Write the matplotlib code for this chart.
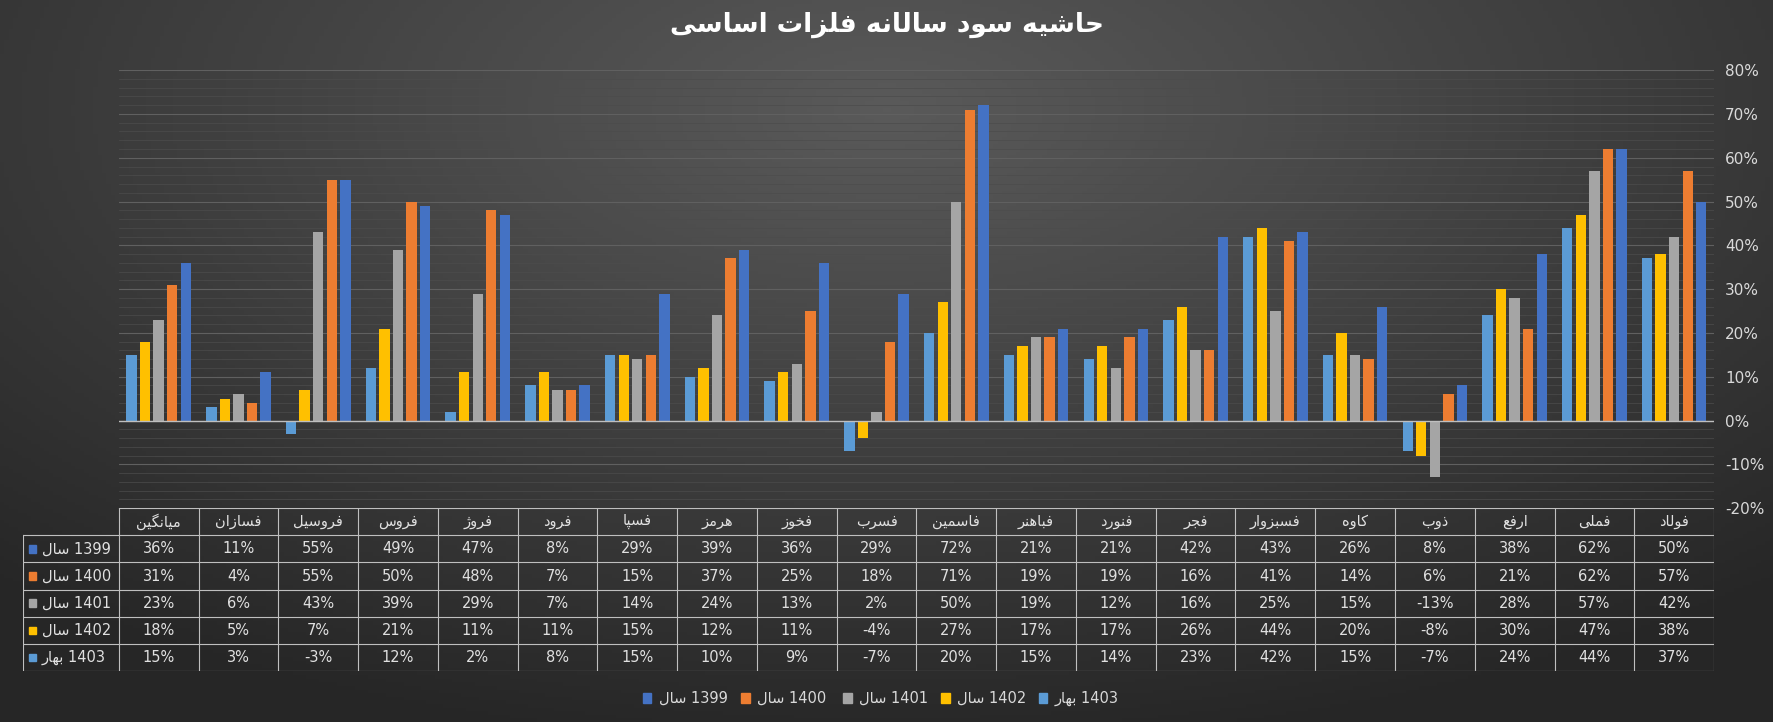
import numpy as np
import matplotlib
matplotlib.use("Agg")
import matplotlib.pyplot as plt
from matplotlib.patches import Rectangle

# ---- minimal Persian shaping (matplotlib has no bidi / joining) ----
FORMS = {  # isolated, final, initial, medial
    "ا": (0xFE8D, 0xFE8E, None, None), "د": (0xFEA9, 0xFEAA, None, None),
    "ذ": (0xFEAB, 0xFEAC, None, None), "ر": (0xFEAD, 0xFEAE, None, None),
    "ز": (0xFEAF, 0xFEB0, None, None), "ژ": (0xFB8A, 0xFB8B, None, None),
    "و": (0xFEED, 0xFEEE, None, None),
    "ب": (0xFE8F, 0xFE90, 0xFE91, 0xFE92), "ت": (0xFE95, 0xFE96, 0xFE97, 0xFE98),
    "ج": (0xFE9D, 0xFE9E, 0xFE9F, 0xFEA0), "ح": (0xFEA1, 0xFEA2, 0xFEA3, 0xFEA4),
    "خ": (0xFEA5, 0xFEA6, 0xFEA7, 0xFEA8), "س": (0xFEB1, 0xFEB2, 0xFEB3, 0xFEB4),
    "ش": (0xFEB5, 0xFEB6, 0xFEB7, 0xFEB8), "ع": (0xFEC9, 0xFECA, 0xFECB, 0xFECC),
    "ف": (0xFED1, 0xFED2, 0xFED3, 0xFED4), "ل": (0xFEDD, 0xFEDE, 0xFEDF, 0xFEE0),
    "م": (0xFEE1, 0xFEE2, 0xFEE3, 0xFEE4), "ن": (0xFEE5, 0xFEE6, 0xFEE7, 0xFEE8),
    "ه": (0xFEE9, 0xFEEA, 0xFEEB, 0xFEEC), "ی": (0xFBFC, 0xFBFD, 0xFBFE, 0xFBFF),
    "پ": (0xFB56, 0xFB57, 0xFB58, 0xFB59), "گ": (0xFB92, 0xFB93, 0xFB94, 0xFB95),
    "ک": (0xFB8E, 0xFB8F, 0xFB90, 0xFB91),
}


def shape_word(w):
    out = []
    for i, c in enumerate(w):
        if c not in FORMS:
            out.append(c)
            continue
        prev = w[i - 1] if i > 0 else None
        nxt = w[i + 1] if i + 1 < len(w) else None
        join_prev = prev in FORMS and FORMS[prev][2] is not None
        join_next = nxt in FORMS and FORMS[c][2] is not None
        f = FORMS[c]
        if join_prev and join_next:
            code = f[3]
        elif join_prev:
            code = f[1]
        elif join_next:
            code = f[2]
        else:
            code = f[0]
        out.append(chr(code))
    return "".join(reversed(out))


def fa(text):
    return " ".join(shape_word(w) for w in reversed(text.split(" ")))


# ---- data ----
categories = ["میانگین", "فسازان", "فروسیل", "فروس", "فروژ", "فرود", "فسپا", "هرمز",
              "فخوز", "فسرب", "فاسمین", "فباهنر", "فنورد", "فجر", "فسبزوار", "کاوه",
              "ذوب", "ارفع", "فملی", "فولاد"]
y1399 = [36, 11, 55, 49, 47, 8, 29, 39, 36, 29, 72, 21, 21, 42, 43, 26, 8, 38, 62, 50]
y1400 = [31, 4, 55, 50, 48, 7, 15, 37, 25, 18, 71, 19, 19, 16, 41, 14, 6, 21, 62, 57]
y1401 = [23, 6, 43, 39, 29, 7, 14, 24, 13, 2, 50, 19, 12, 16, 25, 15, -13, 28, 57, 42]
y1402 = [18, 5, 7, 21, 11, 11, 15, 12, 11, -4, 27, 17, 17, 26, 44, 20, -8, 30, 47, 38]
y1403 = [15, 3, -3, 12, 2, 8, 15, 10, 9, -7, 20, 15, 14, 23, 42, 15, -7, 24, 44, 37]

series_names = [("سال", "1399"), ("سال", "1400"), ("سال", "1401"), ("سال", "1402"), ("بهار", "1403")]
series_vals = [y1399, y1400, y1401, y1402, y1403]
colors = ["#4472C4", "#ED7D31", "#A5A5A5", "#FFC000", "#5B9BD5"]
title = "حاشیه سود سالانه فلزات اساسی"

W, H = 1774, 722
fig = plt.figure(figsize=(W / 100, H / 100), dpi=100)

# background gradient
bg = fig.add_axes([0, 0, 1, 1], zorder=-10)
yy, xx = np.mgrid[0:1:200j, 0:1:400j]
r = np.sqrt(((xx - 0.5) * 1.2) ** 2 + ((yy - 0.15) * 1.0) ** 2)
bg.imshow(r, cmap=matplotlib.colors.LinearSegmentedColormap.from_list("g", ["#5a5a5a", "#262626"]),
          extent=[0, 1, 0, 1], aspect="auto", origin="upper", vmin=0, vmax=0.9)
bg.axis("off")

L, R = 105 / 1568, 1515 / 1568
TOP, BOT = 1 - 62 / 638, 1 - 449 / 638
ax = fig.add_axes([L, BOT, R - L, TOP - BOT])
ax.patch.set_alpha(0)
n = len(categories)
x = np.arange(n)
step, bw = 0.17, 0.13
order = [4, 3, 2, 1, 0]  # 1403 leftmost ... 1399 rightmost
for k, si in enumerate(order):
    ax.bar(x + (k - 2) * step, series_vals[si], bw, color=colors[si], zorder=3)
ax.set_xlim(-0.5, n - 0.5)
ax.set_ylim(-20, 80)
ax.set_yticks(np.arange(-20, 81, 10))
ax.set_yticklabels([f"{v}%" for v in range(-20, 81, 10)], color="#d9d9d9", fontsize=11)
ax.yaxis.tick_right()
ax.set_yticks(np.arange(-20, 81, 2), minor=True)
ax.tick_params(axis="y", length=0, which="both", pad=8)
ax.set_xticks([])
ax.grid(axis="y", which="major", color="#606060", lw=0.8, zorder=0)
ax.grid(axis="y", which="minor", color="#4c4c4c", lw=0.5, zorder=0)
ax.axhline(0, color="#bfbfbf", lw=1, zorder=4)
for s in ax.spines.values():
    s.set_visible(False)

fig.text(0.5, 1 - 22 / 638, fa(title), ha="center", va="center", fontsize=19,
         fontweight="bold", color="white", family="DejaVu Sans")

# ---- data table ----
TL = 20 / 1568
TB = 1 - 593 / 638
tax = fig.add_axes([TL, TB, R - TL, BOT - TB])
tax.patch.set_alpha(0)
cw = (R - L) / n
extra = (L - TL) / cw
tax.set_xlim(-0.5 - extra, n - 0.5)
tax.set_ylim(6, 0)
tax.axis("off")
lc = "#bfbfbf"
for i in range(n + 1):
    tax.plot([i - 0.5, i - 0.5], [0, 6], color=lc, lw=0.8)
tax.plot([-0.5 - extra] * 2, [1, 6], color=lc, lw=0.8)
tax.plot([-0.5, n - 0.5], [0, 0], color=lc, lw=0.8)
for j in range(1, 7):
    tax.plot([-0.5 - extra, n - 0.5], [j, j], color=lc, lw=0.8)
for i, c in enumerate(categories):
    tax.text(i, 0.5, shape_word(c), ha="center", va="center", color="#e0e0e0", fontsize=10.5)
for j, si in enumerate(series_vals):
    for i, v in enumerate(si):
        tax.text(i, j + 1.5, f"{v}%", ha="center", va="center", color="#e0e0e0", fontsize=10.5)
    w, yr = series_names[j]
    tax.add_patch(Rectangle((-0.5 - extra + 0.08, j + 1.36), 0.09, 0.28, color=colors[j]))
    tax.text(-0.5 - extra + 0.24, j + 1.5, f"{shape_word(w)} {yr}", ha="left", va="center",
             color="#e0e0e0", fontsize=10.5)

# ---- legend ----
ly = 1 - 617 / 638
lx = [568, 655, 745, 832, 918]
for k, si in enumerate([0, 1, 2, 3, 4]):
    px = lx[k] / 1568
    fig.patches.append(Rectangle((px, ly - 0.007), 0.005, 0.014, color=colors[si],
                                 transform=fig.transFigure, figure=fig))
    w, yr = series_names[si]
    fig.text(px + 0.009, ly, f"{shape_word(w)} {yr}", ha="left", va="center",
             color="#d9d9d9", fontsize=10.5)

fig.savefig("out.png", dpi=100)
